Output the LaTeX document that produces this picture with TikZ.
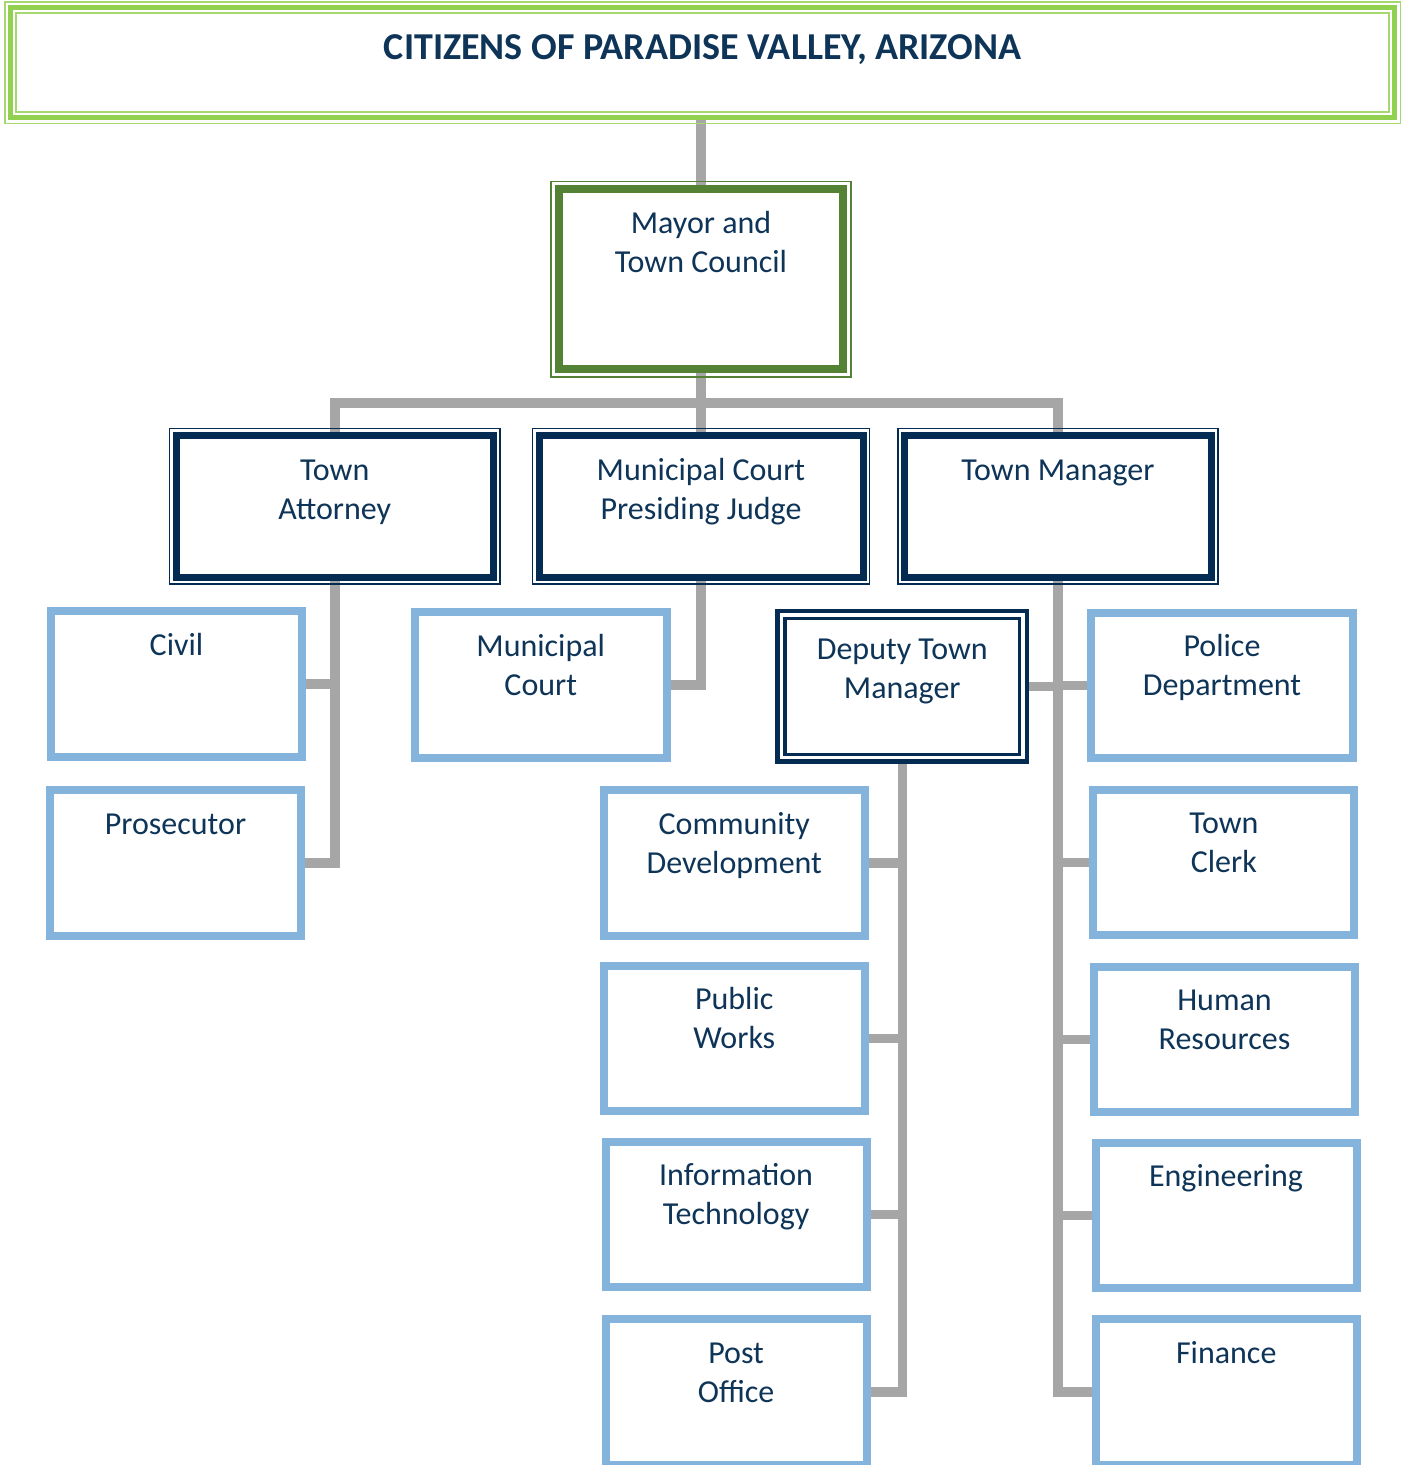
\documentclass[tikz,border=0pt]{standalone}
\usepackage{fontspec}
\setmainfont{Carlito}
\usepackage{xcolor}
\usetikzlibrary{calc, backgrounds}
\definecolor{navytext}{RGB}{14,52,88}
\definecolor{navybox}{RGB}{4,43,82}
\definecolor{mayorgreen}{RGB}{84,130,53}
\definecolor{bannergreen}{RGB}{146,208,80}
\definecolor{bannerthin}{RGB}{166,216,112}
\definecolor{deptblue}{RGB}{132,180,220}
\definecolor{linkgray}{RGB}{166,166,166}

\begin{document}
\begin{tikzpicture}[x=0.5pt, y=-0.5pt, line join=miter]
    \tikzstyle{unit}=[rectangle, fill=white, inner sep=0pt, outer sep=0pt]
    \tikzstyle{banner}=[unit, draw=bannergreen, line width=2.5pt, minimum width=691.85pt, minimum height=54.75pt]
    \tikzstyle{council}=[unit, draw=mayorgreen, line width=4pt, minimum width=142pt, minimum height=89.75pt]
    \tikzstyle{office}=[unit, draw=navybox, line width=3.5pt, minimum height=71.25pt]
    \tikzstyle{deputybox}=[unit, draw=navybox, line width=2.25pt, minimum width=124.75pt, minimum height=75.35pt]
    \tikzstyle{dept}=[unit, draw=deptblue, line width=4pt, minimum width=130.5pt, minimum height=72.75pt]
    \tikzstyle{link}=[draw=linkgray, line width=4.75pt]
    \tikzstyle{caption}=[text=navytext, font=\fontsize{16}{19.5}\selectfont, align=center, anchor=base, inner sep=0pt]
    \tikzstyle{twoline}=[caption, yshift=-19.5pt]
    \tikzstyle{headline}=[caption, font=\bfseries\fontsize{19}{23}\selectfont]

    \useasboundingbox (0,0) rectangle (1406,1465);

    % top of the chart
    \node[banner] (citizens) at (702.6,62.75) {};
    \node[council] (mayor) at (701,279.25) {};

    % reports to the council
    \node[office, minimum width=158.75pt] (attorney) at (334.75,506.25) {};
    \node[office, minimum width=162pt] (judge) at (701,506.25) {};
    \node[office, minimum width=153.5pt] (manager) at (1058,506.25) {};

    % departments
    \node[dept, minimum width=125.5pt] (civil) at (176.5,684.1) {};
    \node[dept, minimum width=125.5pt] (prosecutor) at (175.5,862.9) {};
    \node[dept, minimum width=125.75pt] (muni) at (540.75,684.75) {};
    \node[deputybox] (deputy) at (902.25,686.35) {};
    \node[dept, minimum width=130.25pt] (community) at (734.25,862.75) {};
    \node[dept, minimum width=130.25pt] (publicworks) at (734.25,1038.65) {};
    \node[dept] (infotech) at (736.1,1214.35) {};
    \node[dept] (postoffice) at (736.1,1391.75) {};
    \node[dept, minimum width=131pt] (police) at (1222,685.25) {};
    \node[dept] (clerk) at (1223.85,862.5) {};
    \node[dept] (hr) at (1224.5,1039.5) {};
    \node[dept] (engineering) at (1226,1215.5) {};
    \node[dept] (finance) at (1226.25,1392) {};

    % thin companion frames
    \draw[bannerthin, line width=0.8pt] ($(citizens.north west)+(-6,-6)$) rectangle ($(citizens.south east)+(6,6)$);
    \draw[bannerthin, line width=0.8pt] ($(citizens.north west)+(5.3,5.3)$) rectangle ($(citizens.south east)+(-5.3,-5.3)$);
    \draw[mayorgreen, line width=0.75pt] ($(mayor.north west)+(-8,-8)$) rectangle ($(mayor.south east)+(8,8)$);
    \foreach \n in {attorney,judge,manager}
        \draw[navybox, line width=0.75pt] ($(\n.north west)+(-6.5,-6.5)$) rectangle ($(\n.south east)+(6.5,6.5)$);
    \draw[navybox, line width=1.75pt] ($(deputy.north west)+(7.3,7.3)$) rectangle ($(deputy.south east)+(-7.3,-7.3)$);

    % texts
    \node[headline] (citizens-t) at ([yshift=-26pt]citizens.north) {CITIZENS OF PARADISE VALLEY, ARIZONA};
    \node[twoline] (mayor-t) at ([yshift=-22.25pt]mayor.north) {Mayor and\\Town Council};
    \node[twoline] (attorney-t) at ([yshift=-22.5pt]attorney.north) {Town\\Attorney};
    \node[twoline] (judge-t) at ([yshift=-22.5pt]judge.north) {Municipal Court\\Presiding Judge};
    \node[caption] (manager-t) at ([yshift=-22.5pt]manager.north) {Town Manager};
    \node[twoline] (deputy-t) at ([yshift=-24pt]deputy.north) {Deputy Town\\Manager};
    \node[caption] (civil-t) at ([yshift=-22pt]civil.north) {Civil};
    \node[caption] (prosecutor-t) at ([yshift=-22pt]prosecutor.north) {Prosecutor};
    \node[twoline] (muni-t) at ([yshift=-22pt]muni.north) {Municipal\\Court};
    \node[twoline] (community-t) at ([yshift=-22pt]community.north) {Community\\Development};
    \node[twoline] (publicworks-t) at ([yshift=-22pt]publicworks.north) {Public\\Works};
    \node[twoline] (infotech-t) at ([yshift=-22pt]infotech.north) {Information\\Technology};
    \node[twoline] (postoffice-t) at ([yshift=-22pt]postoffice.north) {Post\\Office};
    \node[twoline] (police-t) at ([yshift=-22pt]police.north) {Police\\Department};
    \node[twoline] (clerk-t) at ([yshift=-22pt]clerk.north) {Town\\Clerk};
    \node[twoline] (hr-t) at ([yshift=-22pt]hr.north) {Human\\Resources};
    \node[caption] (engineering-t) at ([yshift=-22pt]engineering.north) {Engineering};
    \node[caption] (finance-t) at ([yshift=-22pt]finance.north) {Finance};

    % connectors behind the boxes
    \begin{scope}[on background layer]
        \coordinate (bus) at (702,403);
        \draw[link] (mayor.north) -- (mayor.north |- citizens.south);
        \draw[link] (mayor.south) -- (judge.north);
        \draw[link] (attorney.north) -- (attorney.north |- bus) -- (manager.north |- bus) -- (manager.north);
        \draw[link] (attorney.south) |- (prosecutor.east);
        \draw[link] (civil.east) -- (civil.east -| attorney.south);
        \draw[link] (judge.south) |- (muni.east);
        \draw[link] (manager.south) |- (finance.west);
        \foreach \d/\a in {deputy/east,police/west,clerk/west,hr/west,engineering/west}
            \draw[link] (\d.\a) -- (\d.\a -| manager.south);
        \draw[link] (deputy.south) |- (postoffice.east);
        \foreach \d in {community,publicworks,infotech}
            \draw[link] (\d.east) -- (\d.east -| deputy.south);
    \end{scope}
\end{tikzpicture}
\end{document}
